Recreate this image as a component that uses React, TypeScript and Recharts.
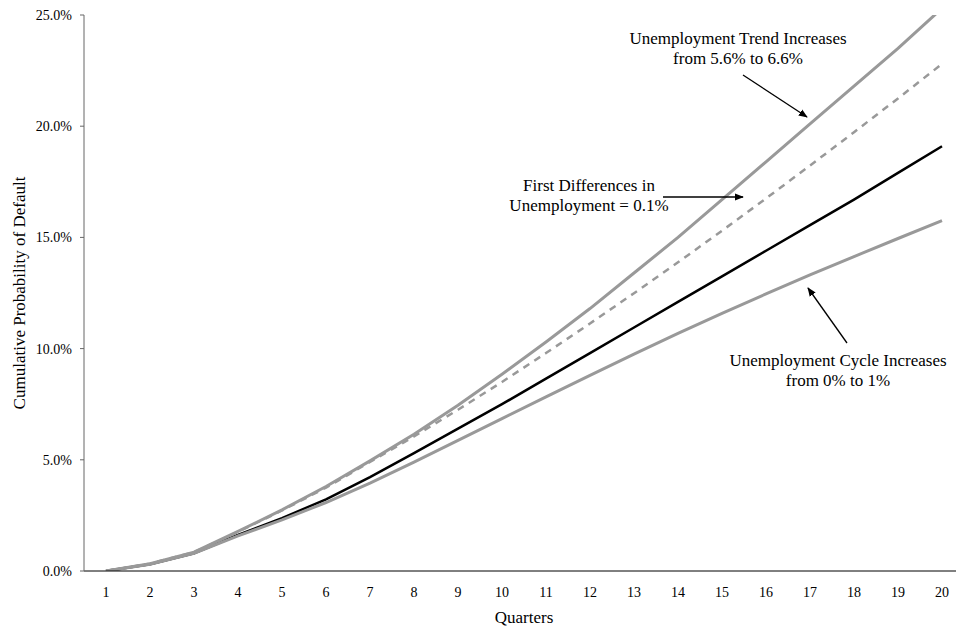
import React from 'react';
import { LineChart, Line, XAxis, YAxis } from 'recharts';

// Quarter numbers on the horizontal axis
const quarters = [1, 2, 3, 4, 5, 6, 7, 8, 9, 10, 11, 12, 13, 14, 15, 16, 17, 18, 19, 20];
// Boundaries between quarters, where the axis tick marks sit
const quarterEdges = [0.5, 1.5, 2.5, 3.5, 4.5, 5.5, 6.5, 7.5, 8.5, 9.5, 10.5, 11.5, 12.5, 13.5, 14.5, 15.5, 16.5, 17.5, 18.5, 19.5, 20.5];
const percentTicks = [0, 5, 10, 15, 20, 25];

// Cumulative probability of default (%), by scenario
const trendIncrease = [0, 0.33, 0.85, 1.78, 2.75, 3.8, 4.95, 6.15, 7.45, 8.85, 10.3, 11.8, 13.4, 15.0, 16.7, 18.4, 20.1, 21.8, 23.5, 25.3];
const firstDifferences = [0, 0.33, 0.85, 1.76, 2.72, 3.75, 4.9, 6.05, 7.25, 8.5, 9.8, 11.13, 12.49, 13.88, 15.3, 16.75, 18.23, 19.73, 21.25, 22.8];
const baseCase = [0, 0.3, 0.8, 1.62, 2.38, 3.22, 4.22, 5.3, 6.4, 7.5, 8.65, 9.8, 10.95, 12.1, 13.25, 14.4, 15.55, 16.7, 17.9, 19.1];
const cycleIncrease = [0, 0.3, 0.8, 1.58, 2.3, 3.08, 3.95, 4.9, 5.87, 6.85, 7.83, 8.8, 9.75, 10.68, 11.58, 12.46, 13.31, 14.14, 14.95, 15.75];

const data = quarters.map((q, i) => ({
  q,
  trend: trendIncrease[i],
  diff: firstDifferences[i],
  base: baseCase[i],
  cycle: cycleIncrease[i],
}));

const FONT = "'Liberation Serif', 'Times New Roman', serif";
const GRAY = '#999999';

const YTitle = (props: any) => {
  const vb = props.viewBox || {};
  const cx = 19.5;
  const cy = vb.y + vb.height / 2;
  return (
    <text
      x={cx}
      y={cy}
      transform={`rotate(-90, ${cx}, ${cy})`}
      textAnchor="middle"
      dominantBaseline="central"
      fontFamily={FONT}
      fontSize={17}
      fill="#000"
    >
      Cumulative Probability of Default
    </text>
  );
};

const XTitle = (props: any) => {
  const vb = props.viewBox || {};
  return (
    <text
      x={vb.x + vb.width / 2}
      y={vb.y + 52}
      textAnchor="middle"
      fontFamily={FONT}
      fontSize={17}
      fill="#000"
    >
      Quarters
    </text>
  );
};

const Note = ({ x, y, lines }: { x: number; y: number; lines: string[] }) => (
  <text x={x} y={y} textAnchor="middle" fontFamily={FONT} fontSize={17} fill="#000">
    {lines.map((l, i) => (
      <tspan key={i} x={x} dy={i === 0 ? 0 : 20}>
        {l}
      </tspan>
    ))}
  </text>
);

export default function App() {
  return (
    <div
      style={{
        position: 'absolute',
        left: 0,
        top: 0,
        width: 956,
        height: 627,
        overflow: 'hidden',
        background: '#fff',
      }}
    >
      <LineChart width={964} height={627} data={data} margin={{ top: 15, right: 0, bottom: 0, left: 0 }}>
        <XAxis
          xAxisId="edges"
          type="number"
          dataKey="q"
          domain={[0.5, 20.5]}
          ticks={quarterEdges}
          tick={false}
          tickSize={4}
          tickLine={{ stroke: '#000' }}
          axisLine={false}
          height={0}
          allowDataOverflow
        />
        <XAxis
          xAxisId="q"
          type="number"
          dataKey="q"
          domain={[0.5, 20.5]}
          ticks={quarters}
          interval={0}
          tickLine={false}
          tickSize={6}
          tickMargin={10}
          axisLine={{ stroke: '#000' }}
          height={56}
          tick={{ fontFamily: FONT, fontSize: 14, fill: '#000' }}
          label={<XTitle />}
          allowDataOverflow
        />
        <YAxis
          type="number"
          domain={[0, 25]}
          ticks={percentTicks}
          allowDataOverflow
          width={84}
          tickSize={4}
          tickMargin={8}
          tickFormatter={(v: number) => `${v.toFixed(1)}%`}
          tick={{ fontFamily: FONT, fontSize: 14, fill: '#000' }}
          axisLine={{ stroke: '#666' }}
          tickLine={{ stroke: '#666' }}
          label={<YTitle />}
        />
        <Line xAxisId="q" dataKey="base" stroke="#000" strokeWidth={2.5} dot={false} type="linear" isAnimationActive={false} />
        <Line xAxisId="q" dataKey="cycle" stroke={GRAY} strokeWidth={3} dot={false} type="linear" isAnimationActive={false} />
        <Line xAxisId="q" dataKey="diff" stroke={GRAY} strokeWidth={2.5} strokeDasharray="7 6" dot={false} type="linear" isAnimationActive={false} />
        <Line xAxisId="q" dataKey="trend" stroke={GRAY} strokeWidth={3} dot={false} type="linear" isAnimationActive={false} />
      </LineChart>
      <svg
        width={956}
        height={627}
        style={{ position: 'absolute', left: 0, top: 0, pointerEvents: 'none' }}
      >
        <defs>
          <marker id="arrowHead" viewBox="0 0 10 10" refX="9" refY="5" markerWidth="9" markerHeight="9" markerUnits="userSpaceOnUse" orient="auto">
            <path d="M0,1 L10,5 L0,9 z" fill="#000" />
          </marker>
        </defs>
        <Note x={738} y={44} lines={['Unemployment Trend Increases', 'from 5.6% to 6.6%']} />
        <line x1={743} y1={75} x2={807} y2={117} stroke="#000" strokeWidth={1.3} markerEnd="url(#arrowHead)" />
        <Note x={589} y={191} lines={['First Differences in', 'Unemployment = 0.1%']} />
        <line x1={663} y1={197} x2={743} y2={197} stroke="#000" strokeWidth={1.3} markerEnd="url(#arrowHead)" />
        <Note x={838} y={366} lines={['Unemployment Cycle Increases', 'from 0% to 1%']} />
        <line x1={847} y1={343} x2={808} y2={288} stroke="#000" strokeWidth={1.3} markerEnd="url(#arrowHead)" />
      </svg>
    </div>
  );
}
